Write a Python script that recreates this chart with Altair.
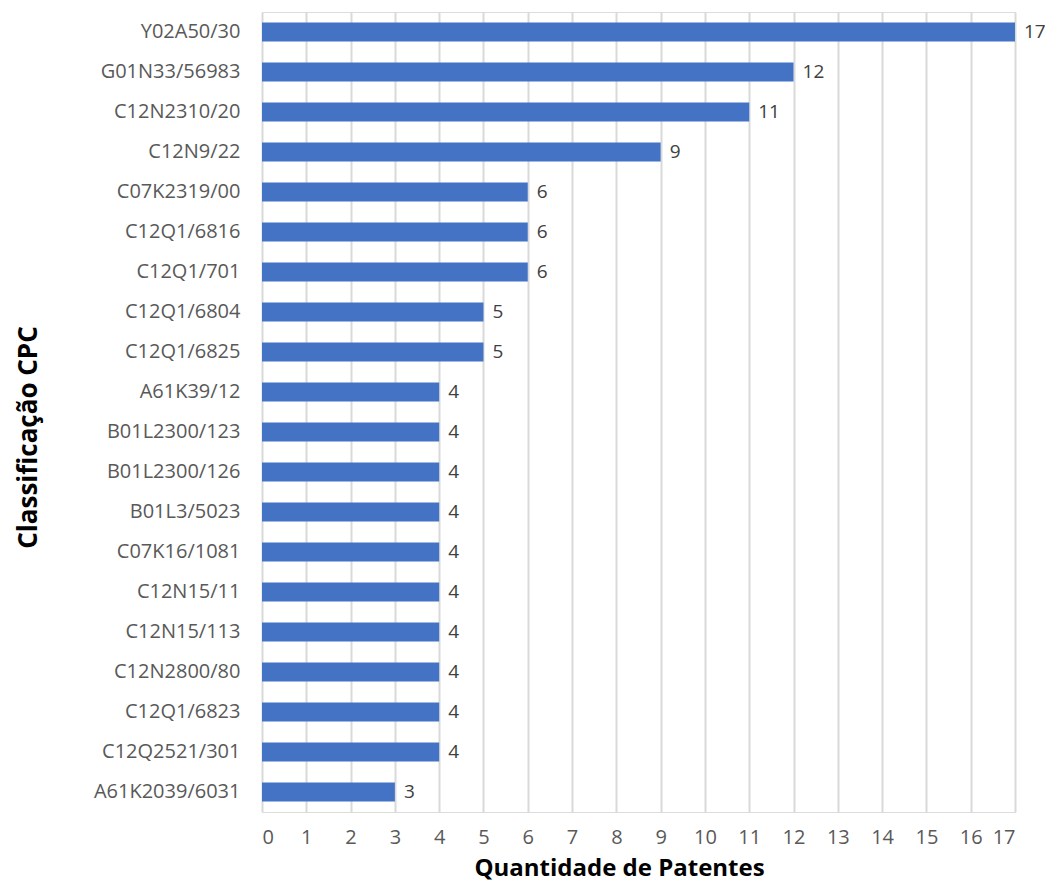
import altair as alt
import pandas as pd

categories = ["Y02A50/30", "G01N33/56983", "C12N2310/20", "C12N9/22", "C07K2319/00",
              "C12Q1/6816", "C12Q1/701", "C12Q1/6804", "C12Q1/6825", "A61K39/12",
              "B01L2300/123", "B01L2300/126", "B01L3/5023", "C07K16/1081", "C12N15/11",
              "C12N15/113", "C12N2800/80", "C12Q1/6823", "C12Q2521/301", "A61K2039/6031"]
values = [17, 12, 11, 9, 6, 6, 6, 5, 5, 4, 4, 4, 4, 4, 4, 4, 4, 4, 4, 3]

df = pd.DataFrame({"cpc": categories, "n": values})
FONT = "Open Sans"

y = alt.Y("cpc:N", sort=categories,
          scale=alt.Scale(paddingInner=0.53, paddingOuter=0.265),
          axis=alt.Axis(title="Classificação CPC", ticks=False, domain=False,
                        labelFontSize=20, labelColor="#595959", labelFont=FONT,
                        labelPadding=22, titleFontSize=26, titleFont=FONT,
                        titleFontWeight="bold", titleColor="#000000",
                        titleX=-234, titleY=425, titleAngle=-90,
                        titleAlign="center", titleBaseline="middle"))
x = alt.X("n:Q", scale=alt.Scale(domain=[0, 17], nice=False),
          axis=alt.Axis(title="Quantidade de Patentes", values=list(range(18)),
                        ticks=False, domain=False, grid=True, gridColor="#d9d9d9",
                        gridWidth=2, labelFontSize=20, labelColor="#595959",
                        labelFont=FONT, labelPadding=15, titleFontSize=24,
                        titleFont=FONT, titleFontWeight="bold", titleColor="#000000",
                        titleX=357, titleY=56, titleAlign="center",
                        titleBaseline="middle"))

bars = alt.Chart(df).mark_bar(color="#4472C4").encode(x=x, y=y)
labels = alt.Chart(df).mark_text(align="left", dx=9, fontSize=19, font=FONT,
                                 color="#404040").encode(x="n:Q", y=alt.Y("cpc:N", sort=categories), text="n:Q")

chart = (bars + labels).properties(
    width=753, height=800,
    autosize=alt.AutoSizeParams(type="none"),
    padding={"left": 254, "top": 4, "right": 30, "bottom": 70},
).configure_view(stroke=None).configure(background="white")

chart.save("out.html", embed_options={"renderer": "svg", "actions": False})
